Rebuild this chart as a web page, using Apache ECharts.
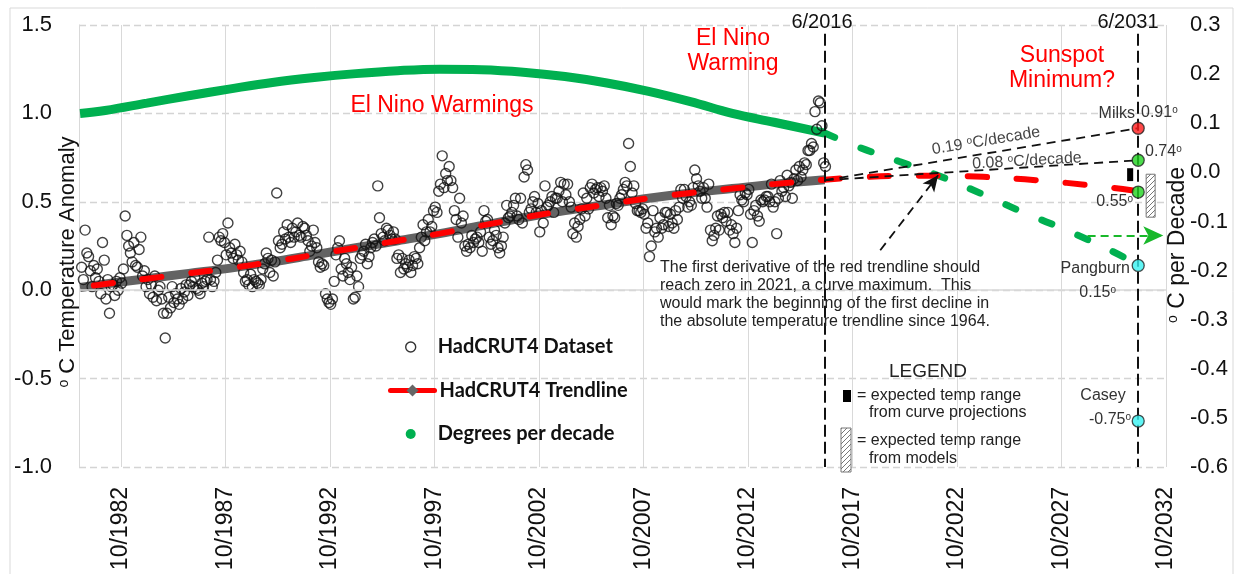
<!DOCTYPE html>
<html>
<head>
<meta charset="utf-8">
<title>HadCRUT4 trendline and projection to 2031</title>
<script src="https://cdn.jsdelivr.net/npm/echarts@6/dist/echarts.min.js"></script>
<style>
  html, body { margin: 0; padding: 0; background: #fff; }
  #chart { width: 1239px; height: 574px; }
</style>
</head>
<body>
<div id="chart"></div>
<script>
// HadCRUT4 monthly anomaly (deg C), first value is Nov 1980
const anomalyStartYear = 1980;
const anomalyStartMonth = 11;
const anomalyMonthly = [
  0.13, 0.06,                                                             // 1980 Nov-Dec
  0.34, 0.21, 0.19, 0.11, 0.02, 0.14, 0.07, 0.12, 0.05, -0.02, 0.27, 0.17,  // 1981
  -0.05, 0.06, -0.13, 0.02, 0.03, -0.03, 0.05, 0.00, 0.07, 0.04, 0.12, 0.42, // 1982
  0.31, 0.25, 0.21, 0.16, 0.27, 0.14, 0.13, 0.23, 0.30, 0.08, 0.11, 0.02,   // 1983
  0.06, -0.02, 0.03, -0.04, 0.08, -0.06, 0.00, 0.02, -0.05, -0.13, -0.27, -0.13, // 1984
  -0.04, -0.10, 0.02, -0.07, -0.02, -0.05, -0.08, 0.01, -0.05, -0.01, 0.03, -0.03, // 1985
  0.03, 0.05, 0.02, 0.07, 0.01, 0.00, -0.02, 0.04, 0.02, 0.05, 0.06, 0.30,  // 1986
  0.06, 0.02, 0.05, 0.10, 0.17, 0.30, 0.28, 0.32, 0.27, 0.20, 0.38, 0.24,   // 1987
  0.21, 0.18, 0.26, 0.20, 0.17, 0.22, 0.16, 0.10, 0.05, 0.06, 0.03, 0.09,   // 1988
  0.02, 0.06, 0.05, 0.04, 0.03, 0.06, 0.12, 0.15, 0.21, 0.18, 0.10, 0.17,   // 1989
  0.08, 0.16, 0.55, 0.28, 0.24, 0.26, 0.33, 0.29, 0.37, 0.30, 0.27, 0.35,   // 1990
  0.30, 0.33, 0.38, 0.31, 0.30, 0.36, 0.35, 0.31, 0.28, 0.22, 0.25, 0.34,   // 1991
  0.27, 0.24, 0.16, 0.13, 0.15, 0.14, -0.02, -0.05, -0.07, -0.08, -0.05, 0.05, // 1992
  0.20, 0.24, 0.28, 0.12, 0.08, 0.18, 0.15, 0.10, 0.06, 0.13, -0.05, -0.04, // 1993
  0.08, 0.02, 0.18, 0.20, 0.22, 0.26, 0.15, 0.19, 0.24, 0.27, 0.29, 0.25,   // 1994
  0.59, 0.41, 0.32, 0.30, 0.28, 0.35, 0.34, 0.31, 0.29, 0.33, 0.29, 0.18,   // 1995
  0.20, 0.10, 0.18, 0.12, 0.15, 0.13, 0.17, 0.10, 0.14, 0.19, 0.18, 0.15,   // 1996
  0.24, 0.30, 0.37, 0.28, 0.33, 0.40, 0.33, 0.36, 0.45, 0.47, 0.44, 0.56,   // 1997
  0.60, 0.76, 0.58, 0.66, 0.62, 0.70, 0.62, 0.58, 0.45, 0.40, 0.30, 0.52,   // 1998
  0.38, 0.42, 0.25, 0.22, 0.26, 0.24, 0.31, 0.27, 0.29, 0.30, 0.27, 0.33,   // 1999
  0.22, 0.45, 0.39, 0.40, 0.30, 0.26, 0.28, 0.34, 0.31, 0.24, 0.21, 0.25,   // 2000
  0.30, 0.38, 0.48, 0.41, 0.42, 0.44, 0.48, 0.52, 0.42, 0.40, 0.52, 0.38,   // 2001
  0.64, 0.71, 0.68, 0.44, 0.46, 0.50, 0.53, 0.44, 0.49, 0.33, 0.45, 0.38,   // 2002
  0.59, 0.47, 0.48, 0.50, 0.53, 0.44, 0.52, 0.52, 0.56, 0.61, 0.50, 0.60,   // 2003
  0.54, 0.60, 0.50, 0.47, 0.32, 0.38, 0.30, 0.36, 0.40, 0.46, 0.55, 0.42,   // 2004
  0.52, 0.46, 0.58, 0.60, 0.55, 0.57, 0.58, 0.53, 0.58, 0.56, 0.59, 0.52,   // 2005
  0.41, 0.48, 0.37, 0.42, 0.41, 0.49, 0.48, 0.52, 0.54, 0.57, 0.61, 0.59,   // 2006
  0.83, 0.70, 0.55, 0.59, 0.49, 0.45, 0.45, 0.44, 0.46, 0.43, 0.35, 0.38,   // 2007
  0.19, 0.25, 0.45, 0.33, 0.35, 0.30, 0.41, 0.35, 0.37, 0.44, 0.44, 0.36,   // 2008
  0.43, 0.38, 0.35, 0.45, 0.40, 0.47, 0.57, 0.52, 0.57, 0.53, 0.47, 0.50,   // 2009
  0.48, 0.58, 0.68, 0.63, 0.59, 0.56, 0.52, 0.58, 0.52, 0.47, 0.60, 0.34,   // 2010
  0.28, 0.31, 0.35, 0.42, 0.34, 0.43, 0.41, 0.44, 0.39, 0.44, 0.34, 0.37,   // 2011
  0.32, 0.27, 0.35, 0.45, 0.54, 0.51, 0.50, 0.55, 0.54, 0.57, 0.43, 0.27,   // 2012
  0.45, 0.48, 0.42, 0.39, 0.51, 0.50, 0.51, 0.53, 0.53, 0.50, 0.60, 0.47,   // 2013
  0.50, 0.32, 0.52, 0.62, 0.56, 0.58, 0.53, 0.65, 0.59, 0.61, 0.52, 0.63,   // 2014
  0.68, 0.62, 0.70, 0.64, 0.68, 0.72, 0.71, 0.79, 0.79, 0.83, 0.81, 1.01,   // 2015
  0.91, 1.07, 1.06, 0.93, 0.72, 0.70                                        // 2016 Jan-Jun
];

// polynomial trendline of the dataset (left axis)
const trendYears  = [1980.8, 1982, 1984, 1986, 1988, 1990, 1992, 1994, 1996, 1998, 2000, 2002, 2004, 2006, 2008, 2010, 2012, 2014, 2016.42];
const trendValues = [0.015, 0.035, 0.065, 0.095, 0.125, 0.16, 0.20, 0.24, 0.28, 0.32, 0.365, 0.41, 0.45, 0.485, 0.52, 0.55, 0.575, 0.60, 0.625];
// trendline projected forward
const projYears  = [2018, 2020, 2022, 2024, 2026, 2028, 2030, 2031.1];
const projValues = [0.638, 0.647, 0.648, 0.641, 0.627, 0.607, 0.582, 0.565];

// first derivative, degrees per decade (right axis)
const rateYears  = [1980.8, 1982, 1984, 1986, 1988, 1990, 1992, 1994, 1996, 1998, 2000, 2002, 2004, 2006, 2008, 2010, 2012, 2014, 2016.42];
const rateValues = [0.120, 0.126, 0.141, 0.156, 0.170, 0.183, 0.193, 0.201, 0.207, 0.210, 0.209, 0.204, 0.195, 0.182, 0.165, 0.144, 0.120, 0.102, 0.080];
const rateProjYears  = [2016.42, 2018, 2020, 2022, 2024, 2026, 2028, 2030, 2030.7];
const rateProjValues = [0.080, 0.052, 0.022, -0.009, -0.045, -0.083, -0.118, -0.157, -0.172];

// 6/2031 projections (left axis)
const markerYear = 2031.42;
const markerNames  = ['Milks', '0.74', '0.55', 'Pangburn', 'Casey'];
const markerValues = [0.916, 0.735, 0.555, 0.14, -0.74];
const markerColors = ['#ff1a1a', '#1fd31f', '#1fd31f', '#38f2f2', '#38f2f2'];

// expected ranges at 2031
const curveRange = [0.617, 0.69];
const modelRange = [0.413, 0.656];

const breakYear = 2016.42;   // 6/2016
const xMin = 1980.75, xMax = 2032.75;
const xTickValues = [1982.75, 1987.75, 1992.75, 1997.75, 2002.75, 2007.75, 2012.75, 2017.75, 2022.75, 2027.75, 2032.75];

const FONT = '"Liberation Sans", Arial, sans-serif';
const zip = (xs, ys) => xs.map((x, i) => [x, ys[i]]);

const anomalyData = anomalyMonthly.map((v, i) => {
  const m = anomalyStartMonth - 1 + i;
  return [anomalyStartYear + (m + 0.5) / 12, v];
});

function hatch() {
  const c = document.createElement('canvas');
  c.width = 5; c.height = 5;
  const g = c.getContext('2d');
  g.fillStyle = '#fff';
  g.fillRect(0, 0, 5, 5);
  g.strokeStyle = '#777';
  g.lineWidth = 1;
  g.beginPath();
  g.moveTo(0, 5); g.lineTo(5, 0);
  g.moveTo(-1, 1); g.lineTo(1, -1);
  g.moveTo(4, 6); g.lineTo(6, 4);
  g.stroke();
  return { image: c, repeat: 'repeat' };
}
const hatchFill = hatch();

function text(x, y, str, size, opt) {
  opt = opt || {};
  return {
    type: 'text', x: x, y: y, rotation: opt.rot || 0, silent: true, z: 50,
    style: {
      text: str, fontSize: size, fontFamily: opt.family || FONT,
      fill: opt.color || '#222', align: opt.align || 'left', verticalAlign: 'middle',
      rich: { s: { fontSize: Math.round(size * 0.62), fontFamily: FONT, fill: opt.color || '#222', verticalAlign: 'top' } }
    }
  };
}

const legendText = { fontFamily: 'Lato', fontWeight: 'bold', fontSize: 20, lineHeight: 22, color: '#111' };

const chart = echarts.init(document.getElementById('chart'));

chart.setOption({
  animation: false,
  grid: { left: 79, right: 73, top: 25, bottom: 107, outerBoundsMode: 'none' },
  legend: [
    {
      // circle items: first and third rows
      data: [
        { name: 'HadCRUT4 Dataset', icon: 'circle', itemStyle: { color: 'rgba(0,0,0,0)', borderColor: '#000', borderWidth: 1.4 } },
        { name: 'Degrees per decade', icon: 'circle' }
      ],
      orient: 'vertical', left: 405, top: 336, padding: 0,
      itemWidth: 44, itemHeight: 10, itemGap: 65, selectedMode: false,
      textStyle: legendText
    },
    {
      // middle row: red line with grey diamond
      data: [{ name: 'HadCRUT4 Trendline', lineStyle: { type: 'solid', width: 5, color: '#ff0000' } }],
      orient: 'vertical', left: 388, top: 379.5, padding: 0,
      itemWidth: 44, itemHeight: 15, selectedMode: false,
      textStyle: legendText
    }
  ],
  xAxis: {
    type: 'value', min: xMin, max: xMax,
    axisLine: { show: false },
    axisTick: { show: false, customValues: xTickValues },
    axisLabel: {
      customValues: xTickValues, rotate: 90, margin: 20,
      fontFamily: FONT, fontSize: 23, color: '#111',
      formatter: v => '10/' + Math.floor(v)
    },
    splitLine: { show: true, lineStyle: { color: '#d9d9d9', width: 1 } }
  },
  yAxis: [
    {
      type: 'value', min: -1, max: 1.5, interval: 0.5,
      axisLine: { show: true, lineStyle: { color: '#d9d9d9' } },
      axisTick: { show: false },
      axisLabel: { margin: 27, fontFamily: FONT, fontSize: 22, color: '#111',
        formatter: v => (Math.abs(v) < 1e-9 ? 0 : v).toFixed(1) },
      splitLine: { lineStyle: { color: '#d4d4d4', width: 1.3, type: [7, 4] } }
    },
    {
      type: 'value', min: -0.6, max: 0.3, interval: 0.1, position: 'right',
      axisLine: { show: false }, axisTick: { show: false },
      axisLabel: { margin: 24, fontFamily: FONT, fontSize: 22, color: '#111',
        formatter: v => (Math.abs(v) < 1e-9 ? 0 : v).toFixed(1) },
      splitLine: { show: false }
    }
  ],
  series: [
    {
      name: 'trend band', type: 'line', z: 2, silent: true,
      data: zip(trendYears, trendValues), smooth: 0.4, symbol: 'none',
      lineStyle: { color: '#636363', width: 9 },
      markLine: {
        silent: true, symbol: ['none', 'none'], label: { show: false },
        lineStyle: { color: '#d9d9d9', width: 1.6, type: 'solid' },
        data: [{ yAxis: 0 }]
      }
    },
    {
      name: 'HadCRUT4 Dataset', type: 'scatter', z: 3, silent: true,
      data: anomalyData, symbol: 'circle', symbolSize: 10,
      itemStyle: { color: 'rgba(0,0,0,0)', borderColor: '#111', borderWidth: 1.4 }
    },
    {
      name: 'HadCRUT4 Trendline', type: 'line', z: 4, silent: true,
      data: zip(trendYears, trendValues).concat(zip(projYears, projValues)),
      smooth: 0.4, symbol: 'diamond', showSymbol: false,
      itemStyle: { color: '#666' },
      lineStyle: { color: '#ff0000', width: 6, type: [19, 30], dashOffset: 35, cap: 'round' }
    },
    {
      name: 'Degrees per decade', type: 'line', yAxisIndex: 1, z: 3, silent: true,
      data: zip(rateYears, rateValues), smooth: 0.4, symbol: 'none',
      itemStyle: { color: '#00b050' },
      lineStyle: { color: '#00b050', width: 9 }
    },
    {
      name: 'rate projection', type: 'line', yAxisIndex: 1, z: 3, silent: true,
      data: zip(rateProjYears, rateProjValues), smooth: 0.4, symbol: 'none',
      lineStyle: { color: '#00b050', width: 7, type: [11, 28], cap: 'round' },
      markLine: {
        silent: true, label: { show: false }, symbol: ['none', 'arrow'], symbolSize: [14, 20],
        lineStyle: { color: '#19b82a', width: 2, type: [8, 5] },
        data: [[{ coord: [2029.0, -0.1286] }, { coord: [2032.62, -0.1286] }]]
      }
    },
    {
      name: 'projections', type: 'scatter', z: 6, silent: true,
      symbol: 'circle', symbolSize: 12,
      data: markerValues.map((v, i) => ({
        name: markerNames[i], value: [markerYear, v],
        itemStyle: { color: markerColors[i], borderColor: '#222', borderWidth: 1.3 }
      })),
      markLine: {
        silent: true, label: { show: false }, symbol: ['none', 'none'],
        data: [
          [{ coord: [breakYear, 1.45], lineStyle: { color: '#111', width: 2, type: [12, 5] } }, { coord: [breakYear, -1.0] }],
          [{ coord: [markerYear, 1.45], lineStyle: { color: '#111', width: 2, type: [12, 5] } }, { coord: [markerYear, -1.0] }],
          [{ coord: [breakYear, 0.622], lineStyle: { color: '#111', width: 1.8, type: [9, 6] } }, { coord: [markerYear, markerValues[0]] }],
          [{ coord: [breakYear, 0.622], lineStyle: { color: '#111', width: 1.8, type: [9, 6] } }, { coord: [markerYear, markerValues[1]] }],
          [{ coord: [2019.08, 0.226], lineStyle: { color: '#111', width: 1.8, type: [9, 6] } },
           { coord: [2021.85, 0.65], symbol: 'arrow', symbolSize: [11, 16] }]
        ]
      },
      markArea: {
        silent: true,
        data: [
          [{ coord: [2030.89, curveRange[0]], itemStyle: { color: '#000' } }, { coord: [2031.18, curveRange[1]] }],
          [{ coord: [2031.80, modelRange[0]], itemStyle: { color: hatchFill, borderColor: '#777', borderWidth: 1 } }, { coord: [2032.23, modelRange[1]] }]
        ]
      }
    }
  ],
  graphic: [
    { type: 'rect', silent: true, z: 0, shape: { x: 10, y: 8, width: 1223, height: 600 },
      style: { fill: 'none', stroke: '#d9d9d9', lineWidth: 1 } },

    text(68, 262, '{s|o} C Temperature Anomaly', 22, { rot: Math.PI / 2, align: 'center', color: '#111' }),
    text(1178, 245, '{s|o} C per Decade', 23, { rot: Math.PI / 2, align: 'center', color: '#111' }),

    text(822, 22, '6/2016', 20, { align: 'center', color: '#111' }),
    text(1128, 22, '6/2031', 20, { align: 'center', color: '#111' }),

    text(442, 106, 'El Nino Warmings', 23, { align: 'center', color: '#ff0000' }),
    text(733, 39, 'El Nino', 23, { align: 'center', color: '#ff0000' }),
    text(733, 64, 'Warming', 23, { align: 'center', color: '#ff0000' }),
    text(1062, 56, 'Sunspot', 23, { align: 'center', color: '#ff0000' }),
    text(1062, 81, 'Minimum?', 23, { align: 'center', color: '#ff0000' }),

    text(660, 268, 'The first derivative of the red trendline should', 16),
    text(660, 286, 'reach zero in 2021, a curve maximum.  This', 16),
    text(660, 304, 'would mark the beginning of the first decline in', 16),
    text(660, 322, 'the absolute temperature trendline since 1964.', 16),

    text(986, 141, '0.19 {s|o}C/decade', 16, { rot: 0.164, align: 'center', color: '#444' }),
    text(1027, 161, '0.08 {s|o}C/decade', 16, { rot: 0.058, align: 'center', color: '#444' }),

    text(1135, 114, 'Milks', 16, { align: 'right', color: '#333' }),
    text(1141, 113, '0.91{s|o}', 16, { color: '#333' }),
    text(1145, 152, '0.74{s|o}', 16, { color: '#333' }),
    text(1133, 202, '0.55{s|o}', 16, { align: 'right', color: '#333' }),
    text(1130, 269, 'Pangburn', 16, { align: 'right', color: '#333' }),
    text(1116, 293, '0.15{s|o}', 16, { align: 'right', color: '#333' }),
    text(1103, 396, 'Casey', 16, { align: 'center', color: '#333' }),
    text(1131, 420, '-0.75{s|o}', 16, { align: 'right', color: '#333' }),

    text(928, 372, 'LEGEND', 19, { align: 'center', color: '#222' }),
    { type: 'rect', silent: true, z: 50, shape: { x: 843, y: 390, width: 8, height: 12 }, style: { fill: '#000' } },
    text(857, 396, '= expected temp range', 16),
    text(869, 413, 'from curve projections', 16),
    { type: 'rect', silent: true, z: 50, shape: { x: 841, y: 428, width: 10, height: 44 },
      style: { fill: hatchFill, stroke: '#777', lineWidth: 1 } },
    text(857, 441, '= expected temp range', 16),
    text(869, 459, 'from models', 16)
  ]
});
</script>
</body>
</html>
